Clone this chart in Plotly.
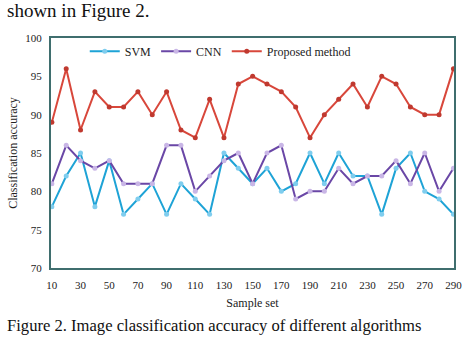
import plotly.graph_objects as go

samples = list(range(10, 300, 10))
svm = [78, 82, 85, 78, 84, 77, 79, 81, 77, 81, 79, 77, 85, 83,
       81, 83, 80, 81, 85, 81, 85, 82, 82, 77, 83, 85, 80, 79, 77]
cnn = [81, 86, 84, 83, 84, 81, 81, 81, 86, 86, 80, 82, 84, 85,
       81, 85, 86, 79, 80, 80, 83, 81, 82, 82, 84, 81, 85, 80, 83]
proposed = [89, 96, 88, 93, 91, 91, 93, 90, 93, 88, 87, 92, 87, 94,
            95, 94, 93, 91, 87, 90, 92, 94, 91, 95, 94, 91, 90, 90, 96]
x_ticks = list(range(10, 300, 20))
y_ticks = [70, 75, 80, 85, 90, 95, 100]

FONT = "Liberation Serif"

fig = go.Figure()
series = [
    ("SVM", svm, "#1ea3d6", "#7fcdee"),
    ("CNN", cnn, "#6a47a6", "#c9b6e6"),
    ("Proposed method", proposed, "#d8473b", "#c0392f"),
]
for name, vals, lc, mc in series:
    fig.add_trace(go.Scatter(
        x=samples, y=vals, name=name, mode="lines+markers",
        line=dict(color=lc, width=2),
        marker=dict(color=mc, size=5, line=dict(width=0)),
    ))

axis_line = "#3f6e6e"
fig.update_layout(
    width=474, height=345,
    margin=dict(l=48, r=14, t=38, b=77),
    paper_bgcolor="white", plot_bgcolor="white",
    font=dict(family=FONT, size=11, color="#222"),
    showlegend=True,
    legend=dict(orientation="h", x=0.42, y=1.005, xanchor="center", yanchor="top",
                font=dict(family=FONT, size=12, color="#222"),
                bgcolor="rgba(0,0,0,0)", itemwidth=30, tracegroupgap=0),
    xaxis=dict(range=[9.4, 290.4], tickvals=x_ticks, showgrid=False, zeroline=False,
               showline=True, mirror=True, linecolor=axis_line, linewidth=2,
               ticks="", ticklabelstandoff=6, tickfont=dict(family=FONT, size=11),
               title=dict(text="Sample set", font=dict(family=FONT, size=12), standoff=8)),
    yaxis=dict(range=[70, 100], tickvals=y_ticks, showgrid=False, zeroline=False,
               showline=True, mirror=True, linecolor=axis_line, linewidth=2,
               ticks="", ticklabelstandoff=5, tickfont=dict(family=FONT, size=11),
               title=dict(text="Classification accuracy", font=dict(family=FONT, size=12), standoff=5)),
    annotations=[
        dict(text="shown in Figure 2.", x=-0.115, y=1.12, xref="paper", yref="paper",
             xanchor="left", yanchor="middle", showarrow=False,
             font=dict(family=FONT, size=19, color="#111")),
        dict(text="Figure 2. Image classification accuracy of different algorithms",
             x=-0.115, y=-0.248, xref="paper", yref="paper",
             xanchor="left", yanchor="middle", showarrow=False,
             font=dict(family=FONT, size=16.6, color="#111")),
    ],
)

fig.write_html("out.html")
